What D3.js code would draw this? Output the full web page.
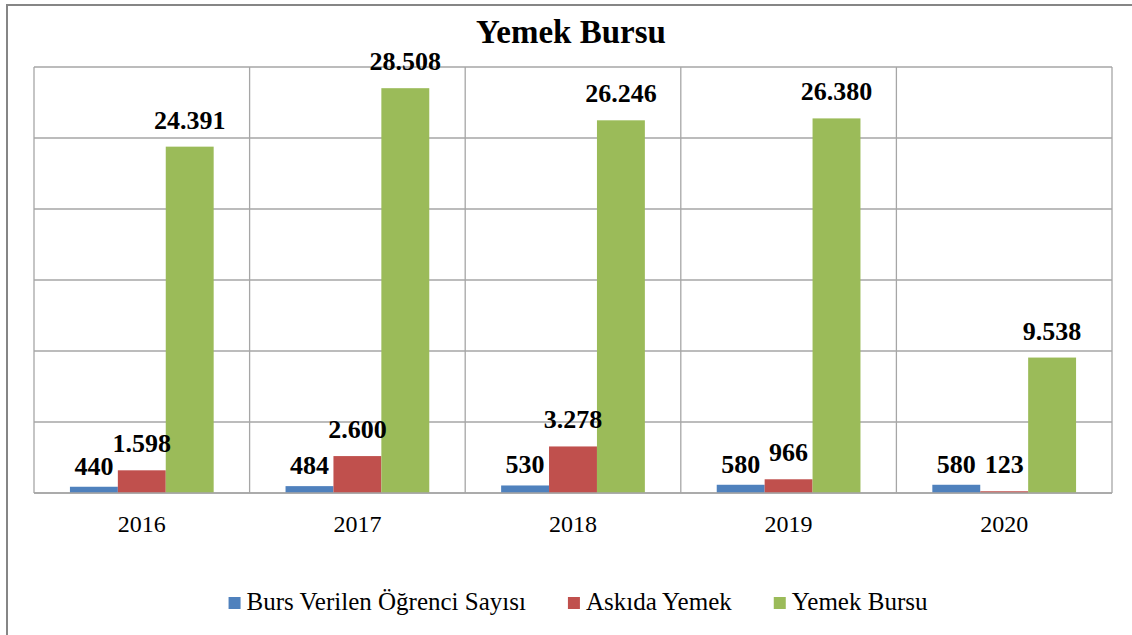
<!DOCTYPE html>
<html>
<head>
<meta charset="utf-8">
<script src="https://cdn.jsdelivr.net/npm/d3@7.9.0/dist/d3.min.js"></script>
<style>
  body { margin: 0; background: #fff; }
  svg { display: block; }
  svg text { font-family: "Liberation Serif", "Times New Roman", serif; fill: #000; }
</style>
</head>
<body>
<svg width="1132" height="635"></svg>
<script>
// data
const years = ['2016', '2017', '2018', '2019', '2020'];
const seriesNames = ['Burs Verilen Öğrenci Sayısı', 'Askıda Yemek', 'Yemek Bursu'];
const bursVerilen = [440, 484, 530, 580, 580];
const askidaYemek = [1598, 2600, 3278, 966, 123];
const yemekBursu = [24391, 28508, 26246, 26380, 9538];
const yTicks = [0, 5000, 10000, 15000, 20000, 25000, 30000];

const colors = ['#4F81BD', '#C0504D', '#9BBB59'];
const labelGap = [12, 18, 18];
const seriesValues = [bursVerilen, askidaYemek, yemekBursu];

const svg = d3.select('svg');
const plot = { left: 34, right: 1112, top: 67, bottom: 493 };

const trFormat = d3.formatLocale({ decimal: ',', thousands: '.', grouping: [3], currency: ['', ''] }).format(',');

// outer chart border (runs off the right and bottom edges)
svg.append('rect')
  .attr('x', 7).attr('y', 5)
  .attr('width', 1140).attr('height', 640)
  .attr('fill', 'none')
  .attr('stroke', '#868686')
  .attr('stroke-width', 2);

svg.append('text')
  .attr('x', 571).attr('y', 43)
  .attr('text-anchor', 'middle')
  .attr('font-size', 33)
  .attr('font-weight', 'bold')
  .text('Yemek Bursu');

const x = d3.scaleBand().domain(years).range([plot.left, plot.right]);
const xInner = d3.scaleBand().domain(d3.range(3)).range([0, x.bandwidth()]).paddingInner(0).paddingOuter(0.75);
const y = d3.scaleLinear().domain([0, 30000]).range([plot.bottom, plot.top]);

// gridlines
svg.append('g')
  .selectAll('line')
  .data(yTicks)
  .join('line')
  .attr('x1', plot.left).attr('x2', plot.right)
  .attr('y1', d => y(d)).attr('y2', d => y(d))
  .attr('stroke', '#a6a6a6')
  .attr('stroke-width', 1.3);

svg.append('g')
  .selectAll('line')
  .data(years.map(d => x(d)).concat([plot.right]))
  .join('line')
  .attr('x1', d => d).attr('x2', d => d)
  .attr('y1', plot.top).attr('y2', plot.bottom)
  .attr('stroke', '#a6a6a6')
  .attr('stroke-width', 1.3);

// bars first, labels after so they sit on top
const barLayer = svg.append('g');
const labelLayer = svg.append('g');

seriesValues.forEach((vals, s) => {
  barLayer.append('g')
    .selectAll('rect')
    .data(vals)
    .join('rect')
    .attr('x', (d, i) => x(years[i]) + xInner(s))
    .attr('width', xInner.bandwidth())
    .attr('y', d => y(d))
    .attr('height', d => plot.bottom - y(d))
    .attr('fill', colors[s]);

  labelLayer.append('g')
    .selectAll('text')
    .data(vals)
    .join('text')
    .attr('x', (d, i) => x(years[i]) + xInner(s) + xInner.bandwidth() / 2)
    .attr('y', d => y(d) - labelGap[s])
    .attr('text-anchor', 'middle')
    .attr('font-size', 26)
    .attr('font-weight', 'bold')
    .text(d => trFormat(d));
});

// bottom axis line over the bars
barLayer.append('line')
  .attr('x1', plot.left).attr('x2', plot.right)
  .attr('y1', plot.bottom).attr('y2', plot.bottom)
  .attr('stroke', '#a6a6a6')
  .attr('stroke-width', 1.3);

// category labels
svg.append('g')
  .selectAll('text')
  .data(years)
  .join('text')
  .attr('x', d => x(d) + x.bandwidth() / 2)
  .attr('y', 532)
  .attr('text-anchor', 'middle')
  .attr('font-size', 24)
  .text(d => d);

// legend
const legend = svg.append('g');
const items = legend.selectAll('g')
  .data(seriesNames)
  .join('g');
items.append('rect')
  .attr('width', 12).attr('height', 12)
  .attr('y', -13)
  .attr('fill', (d, i) => colors[i]);
items.append('text')
  .attr('x', 18)
  .attr('font-size', 25)
  .text(d => d);

let offset = 0;
const offsets = [];
items.each(function () {
  offsets.push(offset);
  const w = d3.select(this).select('text').node().getComputedTextLength();
  offset += 18 + w + 42;
});
const totalW = offset - 42;
const startX = 578 - totalW / 2;
items.attr('transform', (d, i) => `translate(${startX + offsets[i]},610)`);
</script>
</body>
</html>
